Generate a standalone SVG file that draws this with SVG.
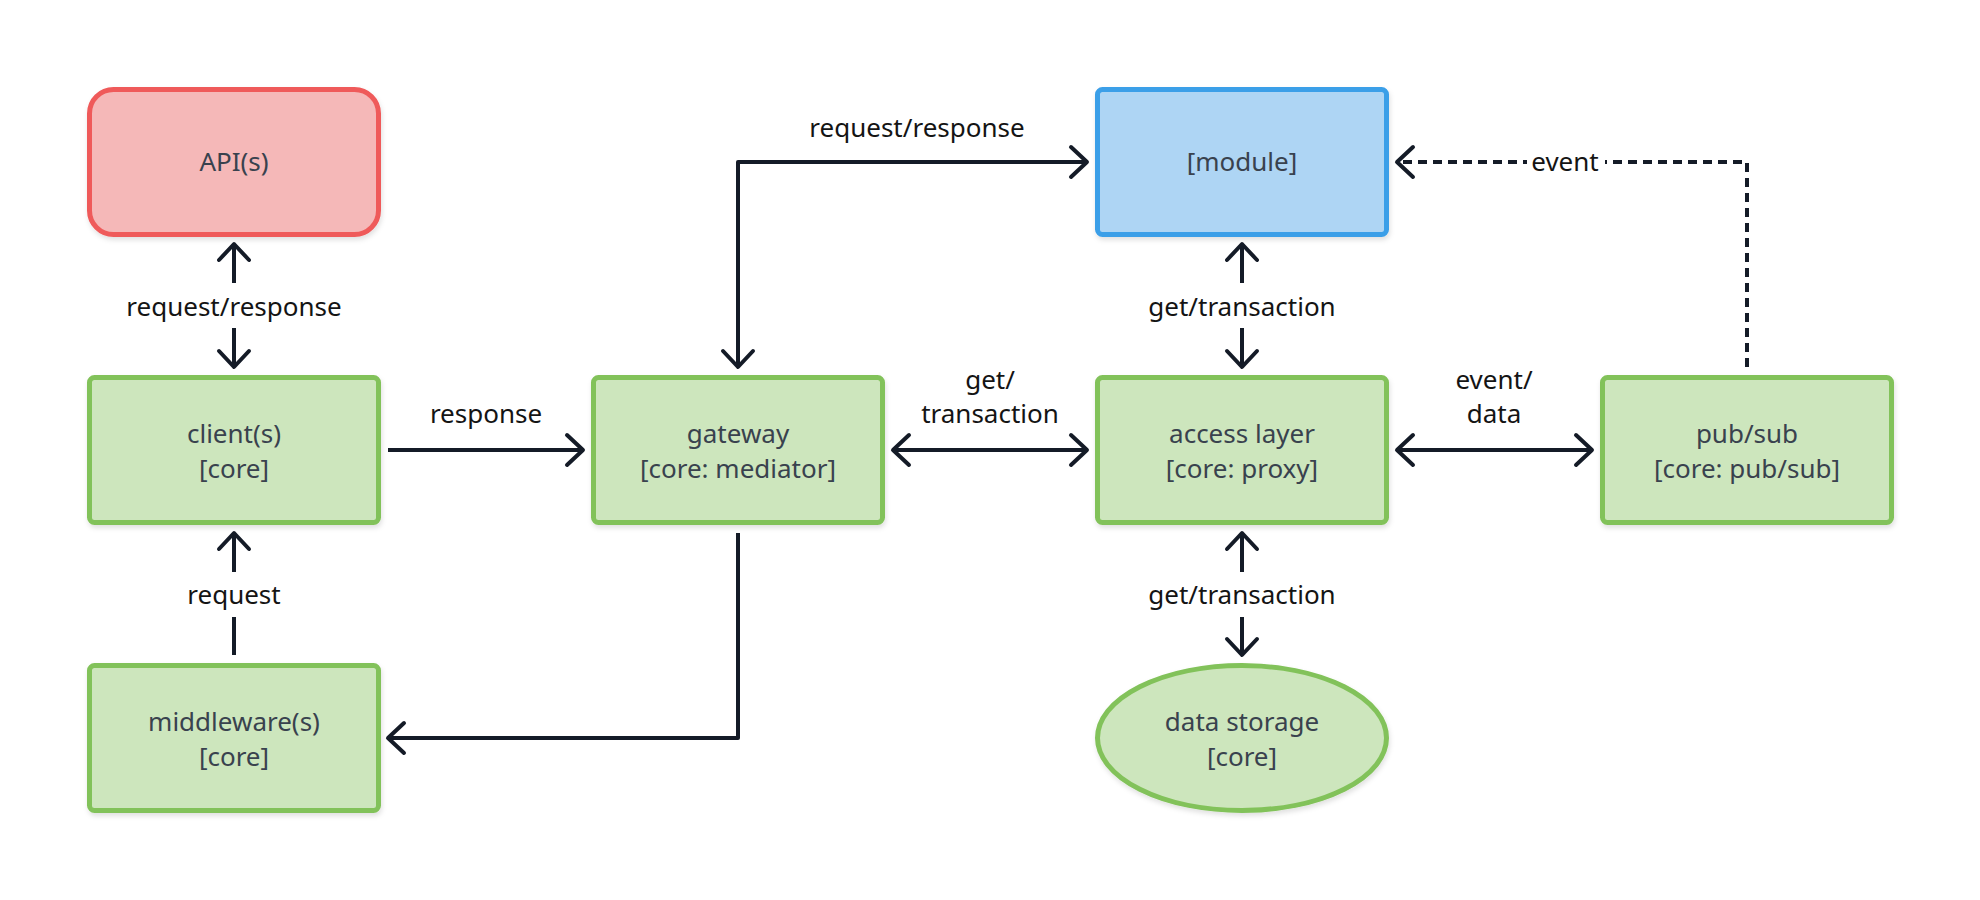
<svg xmlns="http://www.w3.org/2000/svg" width="1980" height="900" viewBox="0 0 1980 900">
  <style>
    .node rect, .node ellipse { stroke-width: 5; filter: url(#sh); }
    .green { fill: #cde6bd; stroke: #82c25a; }
    .red { fill: #f5b8b8; stroke: #ef5a5a; }
    .blue { fill: #aed5f4; stroke: #3b9fe8; }
    .ntext { font-family: "Noto Sans", "Open Sans", sans-serif; font-size: 26px; fill: #39424e; text-anchor: middle; }
    .ltext { font-family: "Noto Sans", "Open Sans", sans-serif; font-size: 26px; fill: #141414; text-anchor: middle; }
    .conn { fill: none; stroke: #141b27; stroke-width: 4; stroke-linejoin: round; }
    .dash { stroke-dasharray: 9 6; }
  </style>
  <defs>
    <filter id="sh" x="-10%" y="-10%" width="125%" height="130%">
      <feDropShadow dx="1" dy="3" stdDeviation="2.5" flood-color="#000" flood-opacity="0.12"/>
    </filter>
    <marker id="arr" markerUnits="userSpaceOnUse" markerWidth="40" markerHeight="40" viewBox="-20 -20 40 40" refX="0" refY="0" orient="auto-start-reverse" overflow="visible">
      <path d="M-16,-15 L0,0 L-16,15" fill="none" stroke="#141b27" stroke-width="4" stroke-linecap="round" stroke-linejoin="round"/>
    </marker>
  </defs>
  <rect width="1980" height="900" fill="#ffffff"/>

  <g id="connectors">
    <!-- API <-> client -->
    <path class="conn" d="M234,283 L234,244" marker-end="url(#arr)"/>
    <path class="conn" d="M234,328 L234,367" marker-end="url(#arr)"/>
    <text class="ltext" x="234" y="316">request/response</text>

    <!-- middleware -> client -->
    <path class="conn" d="M234,655 L234,617"/>
    <path class="conn" d="M234,572 L234,533" marker-end="url(#arr)"/>
    <text class="ltext" x="234" y="604">request</text>

    <!-- client -> gateway -->
    <path class="conn" d="M388,450 L583,450" marker-end="url(#arr)"/>
    <text class="ltext" x="486" y="423">response</text>

    <!-- gateway <-> module -->
    <path class="conn" d="M738,367 L738,162 L1087,162" marker-start="url(#arr)" marker-end="url(#arr)"/>
    <text class="ltext" x="917" y="137">request/response</text>

    <!-- gateway -> middleware -->
    <path class="conn" d="M738,533 L738,738 L388,738" marker-end="url(#arr)"/>

    <!-- gateway <-> access layer -->
    <path class="conn" d="M893,450 L1087,450" marker-start="url(#arr)" marker-end="url(#arr)"/>
    <text class="ltext" x="990" y="389">get/</text>
    <text class="ltext" x="990" y="423">transaction</text>

    <!-- module <-> access layer -->
    <path class="conn" d="M1242,283 L1242,244" marker-end="url(#arr)"/>
    <path class="conn" d="M1242,328 L1242,367" marker-end="url(#arr)"/>
    <text class="ltext" x="1242" y="316">get/transaction</text>

    <!-- access layer <-> data storage -->
    <path class="conn" d="M1242,572 L1242,533" marker-end="url(#arr)"/>
    <path class="conn" d="M1242,617 L1242,655" marker-end="url(#arr)"/>
    <text class="ltext" x="1242" y="604">get/transaction</text>

    <!-- access layer <-> pub/sub -->
    <path class="conn" d="M1397,450 L1592,450" marker-start="url(#arr)" marker-end="url(#arr)"/>
    <text class="ltext" x="1494" y="389">event/</text>
    <text class="ltext" x="1494" y="423">data</text>

    <!-- pub/sub -> module (dashed) -->
    <path class="conn dash" d="M1747,367 L1747,162 L1397,162" marker-end="url(#arr)"/>
    <rect x="1527" y="145" width="78" height="34" fill="#ffffff"/>
    <text class="ltext" x="1565" y="171">event</text>
  </g>

  <g id="node-api" class="node">
    <rect class="red" x="89.5" y="89.5" width="289" height="145" rx="24"/>
    <text class="ntext" x="234" y="171">API(s)</text>
  </g>
  <g id="node-client" class="node">
    <rect class="green" x="89.5" y="377.5" width="289" height="145" rx="5"/>
    <text class="ntext" x="234" y="443">client(s)</text>
    <text class="ntext" x="234" y="478">[core]</text>
  </g>
  <g id="node-middleware" class="node">
    <rect class="green" x="89.5" y="665.5" width="289" height="145" rx="5"/>
    <text class="ntext" x="234" y="731">middleware(s)</text>
    <text class="ntext" x="234" y="766">[core]</text>
  </g>
  <g id="node-gateway" class="node">
    <rect class="green" x="593.5" y="377.5" width="289" height="145" rx="5"/>
    <text class="ntext" x="738" y="443">gateway</text>
    <text class="ntext" x="738" y="478">[core: mediator]</text>
  </g>
  <g id="node-module" class="node">
    <rect class="blue" x="1097.5" y="89.5" width="289" height="145" rx="5"/>
    <text class="ntext" x="1242" y="171">[module]</text>
  </g>
  <g id="node-access" class="node">
    <rect class="green" x="1097.5" y="377.5" width="289" height="145" rx="5"/>
    <text class="ntext" x="1242" y="443">access layer</text>
    <text class="ntext" x="1242" y="478">[core: proxy]</text>
  </g>
  <g id="node-storage" class="node">
    <ellipse class="green" cx="1242" cy="738" rx="144.5" ry="72.5"/>
    <text class="ntext" x="1242" y="731">data storage</text>
    <text class="ntext" x="1242" y="766">[core]</text>
  </g>
  <g id="node-pubsub" class="node">
    <rect class="green" x="1602.5" y="377.5" width="289" height="145" rx="5"/>
    <text class="ntext" x="1747" y="443">pub/sub</text>
    <text class="ntext" x="1747" y="478">[core: pub/sub]</text>
  </g>
</svg>
